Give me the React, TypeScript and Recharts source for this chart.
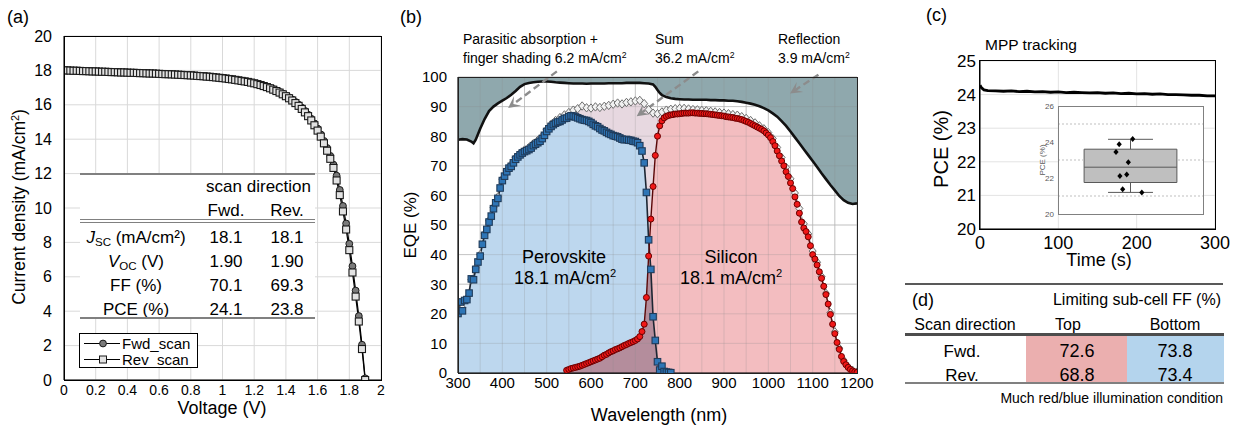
import React from "react";
import {
  ComposedChart,
  LineChart,
  Line,
  Area,
  Scatter,
  XAxis,
  YAxis,
  CartesianGrid,
  ReferenceLine,
  ReferenceArea,
} from "recharts";

const FONT = '"Liberation Sans", Arial, Helvetica, sans-serif';

// ---------- (a) J-V curves ----------
const voltage = [
  0.0, 0.02, 0.04, 0.06, 0.08, 0.1, 0.12, 0.14, 0.16, 0.18,
  0.2, 0.22, 0.24, 0.26, 0.28, 0.3, 0.32, 0.34, 0.36, 0.38,
  0.4, 0.42, 0.44, 0.46, 0.48, 0.5, 0.52, 0.54, 0.56, 0.58,
  0.6, 0.62, 0.64, 0.66, 0.68, 0.7, 0.72, 0.74, 0.76, 0.78,
  0.8, 0.82, 0.84, 0.86, 0.88, 0.9, 0.92, 0.94, 0.96, 0.98,
  1.0, 1.02, 1.04, 1.06, 1.08, 1.1, 1.12, 1.14, 1.16, 1.18,
  1.2, 1.22, 1.24, 1.26, 1.28, 1.3, 1.32, 1.34, 1.36, 1.38,
  1.4, 1.42, 1.44, 1.46, 1.48, 1.5, 1.52, 1.54, 1.56, 1.58,
  1.6, 1.62, 1.64, 1.66, 1.68, 1.7, 1.72, 1.74, 1.76, 1.78,
  1.8, 1.82, 1.84, 1.86, 1.88, 1.9,
];
const jFwd = [
  18.01, 18.01, 18.0, 17.99, 17.99, 17.98, 17.97, 17.97, 17.96, 17.95,
  17.95, 17.94, 17.93, 17.93, 17.92, 17.91, 17.91, 17.9, 17.89, 17.89,
  17.88, 17.87, 17.87, 17.86, 17.85, 17.85, 17.84, 17.83, 17.83, 17.82,
  17.81, 17.8, 17.79, 17.79, 17.78, 17.77, 17.76, 17.75, 17.74, 17.73,
  17.72, 17.71, 17.69, 17.68, 17.67, 17.65, 17.64, 17.62, 17.6, 17.58,
  17.56, 17.54, 17.52, 17.5, 17.47, 17.44, 17.41, 17.38, 17.35, 17.31,
  17.27, 17.23, 17.18, 17.12, 17.06, 16.99, 16.92, 16.84, 16.75, 16.66,
  16.55, 16.44, 16.31, 16.17, 16.01, 15.84, 15.65, 15.43, 15.19, 14.92,
  14.62, 14.28, 13.9, 13.49, 13.03, 12.52, 11.88, 11.05, 10.12, 9.1,
  7.92, 6.62, 5.2, 3.72, 2.05, 0.1,
];
const jRev = [
  18.0, 18.0, 17.99, 17.98, 17.98, 17.97, 17.96, 17.96, 17.95, 17.94,
  17.94, 17.93, 17.92, 17.92, 17.91, 17.9, 17.9, 17.89, 17.88, 17.88,
  17.87, 17.86, 17.86, 17.85, 17.84, 17.84, 17.83, 17.82, 17.82, 17.81,
  17.8, 17.79, 17.78, 17.78, 17.77, 17.76, 17.75, 17.74, 17.73, 17.72,
  17.71, 17.7, 17.68, 17.67, 17.66, 17.64, 17.63, 17.61, 17.59, 17.57,
  17.55, 17.53, 17.5, 17.48, 17.45, 17.42, 17.39, 17.36, 17.33, 17.29,
  17.25, 17.2, 17.15, 17.09, 17.03, 16.96, 16.88, 16.8, 16.71, 16.61,
  16.5, 16.38, 16.25, 16.1, 15.94, 15.76, 15.56, 15.34, 15.09, 14.81,
  14.5, 14.15, 13.76, 13.33, 12.86, 12.33, 11.6, 10.75, 9.8, 8.75,
  7.55, 6.25, 4.85, 3.4, 1.8, 0.0,
];
const voltTicks = [0, 0.2, 0.4, 0.6, 0.8, 1, 1.2, 1.4, 1.6, 1.8, 2];
const voltMinorTicks = [0.1, 0.3, 0.5, 0.7, 0.9, 1.1, 1.3, 1.5, 1.7, 1.9];
const jTicks = [0, 2, 4, 6, 8, 10, 12, 14, 16, 18, 20];
const jMinorTicks = [1, 3, 5, 7, 9, 11, 13, 15, 17, 19];

const jvRowLabels = ["Jsc", "Voc", "FF", "PCE"];
const jvFwdValues = ["18.1", "1.90", "70.1", "24.1"];
const jvRevValues = ["18.1", "1.90", "69.3", "23.8"];

// ---------- (b) EQE ----------
const peroWl = [
  300, 305, 310, 315, 320, 325, 330, 335, 340, 345, 350, 355, 360, 365, 370, 375, 380, 385, 390, 395,
  400, 405, 410, 415, 420, 425, 430, 435, 440, 445, 450, 455, 460, 465, 470, 475, 480, 485, 490, 495,
  500, 505, 510, 515, 520, 525, 530, 535, 540, 545, 550, 555, 560, 565, 570, 575, 580, 585, 590, 595,
  600, 605, 610, 615, 620, 625, 630, 635, 640, 645, 650, 655, 660, 665, 670, 675, 680, 685, 690, 695,
  700, 705, 710, 715, 720, 725, 730, 735, 740, 745, 750, 755, 760, 765, 770, 775, 780,
];
const peroEqe = [
  20.1, 24.0, 21.0, 24.5, 24.8, 27.0, 31.8, 31.5, 35.0, 37.5, 39.5, 43.5, 46.5, 48.5, 51.0, 53.0, 55.5, 57.5, 59.0, 62.5,
  65.0, 66.5, 68.0, 69.2, 69.8, 71.0, 72.2, 73.0, 73.7, 74.3, 74.8, 75.1, 75.5, 76.0, 76.8, 77.3, 77.8, 78.3, 79.2, 80.3,
  81.6, 82.5, 83.3, 83.9, 84.4, 84.8, 85.0, 85.5, 86.0, 86.1, 86.6, 86.9, 86.8, 86.5, 86.2, 85.9, 85.6, 85.4, 85.3, 85.0,
  84.6, 84.0, 83.5, 83.2, 82.6, 82.1, 81.8, 81.3, 80.9, 80.6, 80.2, 80.0, 79.8, 79.4, 79.0, 78.8, 78.9, 78.7, 78.6, 78.3,
  78.2, 77.8, 76.8, 75.0, 71.0, 61.0, 45.0, 35.0, 19.0, 11.0, 3.8, 1.0, 2.3, 0.5, 0.3, 0.2, 0.1,
];
const siWl = [
  545, 550, 555, 560, 565, 570, 575, 580, 585, 590, 595, 600, 605, 610, 615, 620, 625, 630, 635, 640,
  645, 650, 655, 660, 665, 670, 675, 680, 685, 690, 695, 700, 705, 710, 715, 720, 725, 730, 735, 740,
  745, 750, 755, 760, 765, 770, 775, 780, 785, 790, 795, 800, 805, 810, 815, 820, 825, 830, 835, 840,
  845, 850, 855, 860, 865, 870, 875, 880, 885, 890, 895, 900, 905, 910, 915, 920, 925, 930, 935, 940,
  945, 950, 955, 960, 965, 970, 975, 980, 985, 990, 995, 1000, 1005, 1010, 1015, 1020, 1025, 1030, 1035, 1040,
  1045, 1050, 1055, 1060, 1065, 1070, 1075, 1080, 1085, 1090, 1095, 1100, 1105, 1110, 1115, 1120, 1125, 1130, 1135, 1140,
  1145, 1150, 1155, 1160, 1165, 1170, 1175, 1180, 1185, 1190, 1195, 1200,
];
const siEqe = [
  0.9, 1.2, 1.5, 1.7, 1.9, 2.1, 2.3, 2.6, 2.9, 3.2, 3.5, 3.8, 4.1, 4.4, 4.7, 5.0, 5.5, 6.0, 6.3, 6.8,
  7.2, 7.5, 7.9, 8.2, 8.5, 8.9, 9.3, 9.6, 10.0, 10.3, 10.6, 11.0, 11.5, 12.3, 14.0, 16.5, 25.5, 39.5, 52.0, 63.0,
  73.5, 80.0, 83.5, 85.2, 86.2, 86.7, 87.0, 87.2, 87.3, 87.5, 87.5, 87.6, 87.7, 87.8, 87.8, 87.8, 87.9, 87.9, 87.8, 87.8,
  87.7, 87.7, 87.6, 87.6, 87.5, 87.4, 87.3, 87.2, 87.1, 87.0, 86.9, 86.8, 86.6, 86.5, 86.4, 86.3, 86.1, 86.0, 85.8, 85.6,
  85.3, 85.0, 84.7, 84.3, 83.9, 83.5, 83.1, 82.7, 82.3, 81.8, 81.1, 80.4, 79.5, 78.2, 76.8, 75.0, 73.4, 71.6, 70.0, 68.0,
  66.4, 64.2, 62.3, 59.5, 57.0, 54.0, 51.0, 49.0, 47.8, 46.0, 43.0, 40.0, 38.5, 36.5, 34.2, 32.0, 29.3, 26.5, 23.3, 19.8,
  16.5, 13.3, 10.3, 8.0, 5.6, 3.9, 2.8, 1.9, 1.2, 0.7, 0.4, 0.2,
];
// region where both sub-cells respond (lower of the two curves)
const overlapWl = [
  545, 550, 555, 560, 565, 570, 575, 580, 585, 590, 595, 600, 605, 610, 615, 620, 625, 630, 635, 640,
  645, 650, 655, 660, 665, 670, 675, 680, 685, 690, 695, 700, 705, 710, 715, 720, 725, 730, 735, 740,
  745, 750, 755, 760, 765, 770, 775, 780,
];
const overlapEqe = [
  0.9, 1.2, 1.5, 1.7, 1.9, 2.1, 2.3, 2.6, 2.9, 3.2, 3.5, 3.8, 4.1, 4.4, 4.7, 5.0, 5.5, 6.0, 6.3, 6.8,
  7.2, 7.5, 7.9, 8.2, 8.5, 8.9, 9.3, 9.6, 10.0, 10.3, 10.6, 11.0, 11.5, 12.3, 14.0, 16.5, 25.5, 39.5, 35.0, 19.0,
  11.0, 3.8, 1.0, 2.3, 0.5, 0.3, 0.2, 0.1,
];
const sumWl = [
  300, 310, 320, 330, 340, 350, 360, 370, 380, 390, 400, 410, 420, 430, 440, 450, 460, 470, 480, 490,
  500, 510, 520, 530, 540, 550, 560, 570, 580, 590, 600, 610, 620, 630, 640, 650, 660, 670, 680, 690,
  700, 710, 720, 730, 740, 750, 760, 770, 780, 790, 800, 810, 820, 830, 840, 850, 860, 870, 880, 890,
  900, 910, 920, 930, 940, 950, 960, 970, 980, 990, 1000, 1010, 1020, 1030, 1040, 1050, 1060, 1070, 1080, 1090,
  1100, 1110, 1120, 1130, 1140, 1150, 1160, 1170, 1180, 1190, 1200,
];
const sumEqe = [
  20.5, 22.0, 25.2, 31.5, 35.5, 40.0, 47.0, 51.5, 56.0, 59.5, 65.5, 68.5, 70.5, 72.8, 74.2, 75.3, 76.2, 77.5, 78.6, 80.0,
  82.2, 84.0, 85.3, 86.3, 87.2, 88.0, 88.8, 89.3, 90.2, 89.6, 89.5, 89.9, 89.7, 90.1, 90.4, 90.8, 91.2, 90.9, 91.4, 91.6,
  91.9, 92.1, 91.0, 89.0, 87.8, 87.6, 88.2, 88.8, 89.1, 89.3, 89.4, 89.4, 89.2, 89.0, 88.9, 88.7, 88.6, 88.4, 88.2, 88.0,
  87.8, 87.6, 87.3, 87.1, 86.6, 86.0, 85.3, 84.5, 83.5, 82.5, 81.2, 79.2, 76.2, 72.8, 69.5, 65.6, 60.8, 55.6, 50.4, 47.0,
  41.2, 37.4, 32.6, 26.9, 20.4, 13.9, 8.4, 4.3, 2.1, 0.9, 0.3,
];
// 1 - R
const reflWl = [
  300, 310, 320, 330, 335, 340, 350, 360, 370, 380, 390, 400, 410, 420, 430, 440, 450, 460, 470, 480,
  490, 500, 510, 520, 530, 540, 550, 560, 570, 580, 590, 600, 610, 620, 630, 640, 650, 660, 670, 680,
  690, 700, 710, 720, 730, 740, 745, 750, 755, 760, 770, 780, 790, 800, 810, 820, 830, 840, 850, 860,
  870, 880, 890, 900, 910, 920, 930, 940, 950, 960, 970, 980, 990, 1000, 1010, 1020, 1030, 1040, 1050, 1060,
  1070, 1080, 1090, 1100, 1110, 1120, 1130, 1140, 1150, 1160, 1170, 1180, 1190, 1200,
];
const oneMinusR = [
  78.8, 79.0, 78.9, 78.2, 77.6, 78.8, 82.5, 85.8, 88.5, 90.0, 91.1, 92.0, 92.9, 94.0, 95.3, 96.7, 97.6, 98.0, 98.2, 98.4,
  98.5, 98.5, 98.4, 98.2, 98.1, 98.0, 97.9, 97.8, 97.8, 97.8, 97.7, 97.8, 97.8, 97.8, 97.8, 97.9, 97.9, 97.9, 97.9, 98.0,
  98.0, 98.0, 98.0, 97.9, 97.8, 97.5, 96.7, 95.6, 94.6, 93.9, 93.2, 92.8, 92.6, 92.5, 92.4, 92.4, 92.3, 92.3, 92.3, 92.3,
  92.2, 92.2, 92.1, 92.1, 92.0, 92.0, 91.8, 91.6, 91.3, 91.0, 90.6, 90.1, 89.5, 88.7, 87.7, 86.6, 85.1, 83.5, 81.6, 79.6,
  77.6, 75.6, 73.6, 71.6, 69.6, 67.5, 65.5, 63.5, 61.7, 59.8, 58.4, 57.5, 57.1, 57.3,
];
const wlTicks = [300, 350, 400, 450, 500, 550, 600, 650, 700, 750, 800, 850, 900, 950, 1000, 1050, 1100, 1150, 1200];
const eqeTicks = [0, 10, 20, 30, 40, 50, 60, 70, 80, 90, 100];
const eqeMinorTicks = [5, 15, 25, 35, 45, 55, 65, 75, 85, 95];

const arrowParasitic = [{ x: 523, y: 101.9 }, { x: 413, y: 89.5 }];
const arrowSum = [{ x: 842, y: 101.9 }, { x: 703, y: 86.7 }];
const arrowRefl = [{ x: 1113, y: 100.8 }, { x: 1049, y: 94.4 }];

// ---------- (c) MPP tracking ----------
const mppTime = [
  0, 2, 5, 10, 20, 30, 40, 50, 60, 70, 80, 90, 100, 110, 120, 130, 140, 150, 160, 170,
  180, 190, 200, 210, 220, 230, 240, 250, 260, 270, 280, 290, 300,
];
const mppPce = [
  24.28, 24.2, 24.14, 24.12, 24.11, 24.1, 24.11, 24.09, 24.1, 24.08, 24.09, 24.07, 24.08, 24.06, 24.07, 24.06, 24.05, 24.06, 24.04, 24.05,
  24.03, 24.04, 24.02, 24.03, 24.01, 24.02, 24.0, 24.0, 23.99, 23.98, 23.98, 23.96, 23.96,
];
const timeTicks = [0, 100, 200, 300];
const timeMinorTicks = [25, 50, 75, 125, 150, 175, 225, 250, 275];
const pceTicks = [20, 21, 22, 23, 24, 25];
const pceMinorTicks = [
  20.2, 20.4, 20.6, 20.8, 21.2, 21.4, 21.6, 21.8, 22.2, 22.4, 22.6, 22.8, 23.2, 23.4, 23.6, 23.8, 24.2, 24.4, 24.6, 24.8,
];

// inset box plot: [min, q1, median, q3, max]
const boxStats = [21.2, 21.75, 22.6, 23.6, 24.15];
const devicePos = [4.0, 4.22, 5.15, 4.85, 4.27, 4.74, 4.46, 5.78];
const devicePce = [23.45, 23.87, 24.17, 22.88, 22.11, 22.2, 21.37, 21.2];
const insetTicks = [20, 22, 24, 26];
const insetGrid = [21, 23, 25];

// ---------- (d) table ----------
const ffScan = ["Fwd.", "Rev."];
const ffTop = ["72.6", "68.8"];
const ffBottom = ["73.8", "73.4"];

// ---------- helpers ----------
const jvData = voltage.map((v, i) => ({ v, fwd: jFwd[i], rev: jRev[i] }));
const pairs = (xs: number[], ys: number[]) => xs.map((wl, i) => ({ wl, v: ys[i] }));
const peroData = pairs(peroWl, peroEqe);
const siData = pairs(siWl, siEqe);
const overlapData = pairs(overlapWl, overlapEqe);
const sumData = pairs(sumWl, sumEqe);
const reflData = pairs(reflWl, oneMinusR);
const mppData = mppTime.map((t, i) => ({ t, pce: mppPce[i] }));
const deviceData = devicePos.map((x, i) => ({ x, y: devicePce[i] }));

const squareDot = (fill: string, stroke: string, s: number) => (p: any) => {
  if (p.cx == null || p.cy == null) return <g key={`q${p.index}`} />;
  return (
    <rect key={`q${p.index}`} x={p.cx - s / 2} y={p.cy - s / 2} width={s} height={s}
      fill={fill} stroke={stroke} strokeWidth={1.1} />
  );
};
const circleDot = (fill: string, stroke: string, r: number) => (p: any) => {
  if (p.cx == null || p.cy == null) return <g key={`c${p.index}`} />;
  return <circle key={`c${p.index}`} cx={p.cx} cy={p.cy} r={r} fill={fill} stroke={stroke} strokeWidth={1} />;
};
const diamondDot = (p: any) => {
  if (p.cx == null || p.cy == null) return <g key={`d${p.index}`} />;
  const { cx, cy } = p;
  return (
    <polygon key={`d${p.index}`} points={`${cx},${cy - 4.2} ${cx + 3.5},${cy} ${cx},${cy + 4.2} ${cx - 3.5},${cy}`}
      fill="#f2f2f2" stroke="#6e6e6e" strokeWidth={1} />
  );
};
const smallDiamond = (p: any) => {
  const { cx, cy } = p;
  return <polygon points={`${cx},${cy - 3} ${cx + 2.6},${cy} ${cx},${cy + 3} ${cx - 2.6},${cy}`} fill="#000" />;
};

// dashed grey arrow used for the loss annotations
const DashArrow = (p: any) => {
  const { x1, y1, x2, y2 } = p;
  const a = Math.atan2(y2 - y1, x2 - x1);
  const c = Math.cos(a);
  const s = Math.sin(a);
  const L = 12;
  const W = 6;
  const bx = x2 - L * c;
  const by = y2 - L * s;
  const nx = x2 - L * 0.55 * c;
  const ny = y2 - L * 0.55 * s;
  const head = `${x2},${y2} ${bx - W * s},${by + W * c} ${nx},${ny} ${bx + W * s},${by - W * c}`;
  return (
    <g>
      <line x1={x1} y1={y1} x2={nx} y2={ny} stroke="#8c8c8c" strokeWidth={2.4} strokeDasharray="7 4" />
      <polygon points={head} fill="#8c8c8c" />
    </g>
  );
};

const Txt = ({ x, y, size = 16, align = "left", rotate = false, color = "#000", children }: any) => {
  let transform = "translate(0,-50%)";
  if (align === "center") transform = "translate(-50%,-50%)";
  if (align === "right") transform = "translate(-100%,-50%)";
  if (rotate) transform = "translate(-50%,-50%) rotate(-90deg)";
  return (
    <div style={{ position: "absolute", left: x, top: y, fontSize: size, lineHeight: 1, whiteSpace: "nowrap", color, transform }}>
      {children}
    </div>
  );
};
const Sup = ({ children }: any) => (
  <span style={{ fontSize: "0.62em", position: "relative", top: "-0.6em" }}>{children}</span>
);
const Sub = ({ children }: any) => (
  <span style={{ fontSize: "0.68em", position: "relative", top: "0.3em", fontStyle: "normal" }}>{children}</span>
);
const Rule = ({ x, y, w, t = 1.5, color = "#808080" }: any) => (
  <div style={{ position: "absolute", left: x, top: y - t / 2, width: w, height: t, background: color }} />
);
const Frame = ({ x, y, w, h, t = 1, color = "#000" }: any) => (
  <div style={{ position: "absolute", left: x - t / 2, top: y - t / 2, width: w + t, height: h + t,
    border: `${t}px solid ${color}`, boxSizing: "border-box", pointerEvents: "none" }} />
);

const jvLabel = (k: string) => {
  if (k === "Jsc") return <span><i>J</i><Sub>SC</Sub> (mA/cm²)</span>;
  if (k === "Voc") return <span><i>V</i><Sub>OC</Sub> (V)</span>;
  if (k === "FF") return "FF (%)";
  return "PCE (%)";
};

export default function App() {
  const rowY = [237, 261, 285, 309];
  return (
    <div style={{ position: "absolute", left: 0, top: 0, width: 1236, height: 428, background: "#fff", fontFamily: FONT, overflow: "hidden" }}>
      {/* (a) */}
      <div style={{ position: "absolute", left: 0, top: 0 }}>
        <ComposedChart width={400} height={428} data={jvData} margin={{ top: 36, right: 19, bottom: 0, left: 0 }}>
          <CartesianGrid stroke="#d9d9d9" />
          <XAxis type="number" dataKey="v" domain={[0, 2]} ticks={voltTicks} interval={0} allowDataOverflow
            tickLine={false} tickSize={0} tickMargin={5} height={48} axisLine={{ stroke: "#000" }}
            tick={{ fontSize: 14, fill: "#000" }} />
          <XAxis xAxisId="minor" type="number" domain={[0, 2]} ticks={voltMinorTicks} interval={0} mirror
            tick={false} tickSize={4} axisLine={false} tickLine={{ stroke: "#000" }} height={0} allowDataOverflow />
          <YAxis type="number" domain={[0, 20]} ticks={jTicks} interval={0} width={64} allowDataOverflow
            tickLine={false} tickSize={0} tickMargin={12} axisLine={{ stroke: "#000" }} tick={{ fontSize: 16, fill: "#000" }} />
          <YAxis yAxisId="minor" type="number" domain={[0, 20]} ticks={jMinorTicks} interval={0} mirror
            tick={false} tickSize={4} axisLine={false} tickLine={{ stroke: "#000" }} width={0} allowDataOverflow />
          <Line dataKey="fwd" stroke="#000" strokeWidth={1.2} dot={circleDot("#7a7a7a", "#1a1a1a", 3.4)}
            activeDot={false} isAnimationActive={false} />
          <Line dataKey="rev" stroke="#000" strokeWidth={1.2} dot={squareDot("#e2e2e2", "#1a1a1a", 7)}
            activeDot={false} isAnimationActive={false} />
        </ComposedChart>
      </div>
      <Frame x={64} y={36} w={317} h={344} />

      {/* (a) table */}
      <div style={{ position: "absolute", left: 80, top: 173, width: 235, height: 146, background: "#fff" }} />
      <Rule x={80} y={174} w={235} />
      <Txt x={311} y={186} size={17} align="right">scan direction</Txt>
      <Txt x={226} y={210} size={17} align="center">Fwd.</Txt>
      <Txt x={287} y={210} size={17} align="center">Rev.</Txt>
      <Rule x={80} y={219.5} w={235} t={1.3} />
      <Rule x={80} y={222.5} w={235} t={1.3} />
      {jvRowLabels.map((k, i) => (
        <React.Fragment key={k}>
          <Txt x={136} y={rowY[i]} size={17} align="center">{jvLabel(k)}</Txt>
          <Txt x={226} y={rowY[i]} size={17} align="center">{jvFwdValues[i]}</Txt>
          <Txt x={287} y={rowY[i]} size={17} align="center">{jvRevValues[i]}</Txt>
        </React.Fragment>
      ))}
      <Rule x={80} y={318} w={235} />

      {/* (a) legend */}
      <div style={{ position: "absolute", left: 79, top: 333, width: 119, height: 35, background: "#fff", border: "1px solid #000", boxSizing: "border-box" }}>
        <svg width={40} height={33} style={{ position: "absolute", left: 2, top: 0 }}>
          <line x1={2} y1={9.5} x2={38} y2={9.5} stroke="#000" strokeWidth={1.2} />
          <circle cx={21} cy={9.5} r={3.4} fill="#7a7a7a" stroke="#1a1a1a" />
          <line x1={2} y1={25.5} x2={38} y2={25.5} stroke="#000" strokeWidth={1.2} />
          <rect x={17.5} y={22} width={7} height={7} fill="#e2e2e2" stroke="#1a1a1a" />
        </svg>
      </div>
      <Txt x={122} y={343} size={15}>Fwd_scan</Txt>
      <Txt x={122} y={359} size={15}>Rev_scan</Txt>

      <Txt x={7} y={17} size={18}>(a)</Txt>
      <Txt x={20} y={207} size={17.5} rotate>Current density (mA/cm<Sup>2</Sup>)</Txt>
      <Txt x={222} y={408} size={18} align="center">Voltage (V)</Txt>

      {/* (b) */}
      <div style={{ position: "absolute", left: 400, top: 0 }}>
        <ComposedChart width={480} height={428} margin={{ top: 77, right: 23, bottom: 0, left: 0 }}>
          <CartesianGrid stroke="#d9d9d9" />
          <XAxis type="number" dataKey="wl" domain={[300, 1200]} ticks={wlTicks} interval={0} allowDataOverflow
            tickFormatter={(v: number) => (v % 100 === 0 ? String(v) : "")}
            tickLine={false} tickSize={0} tickMargin={4} height={55} axisLine={{ stroke: "#000" }}
            tick={{ fontSize: 15, fill: "#000" }} />
          <XAxis xAxisId="minor" type="number" domain={[300, 1200]} ticks={wlTicks} interval={0} mirror
            tick={false} tickSize={4} axisLine={false} tickLine={{ stroke: "#000" }} height={0} allowDataOverflow />
          <YAxis type="number" domain={[0, 100]} ticks={eqeTicks} interval={0} width={58} allowDataOverflow
            tickLine={false} tickSize={0} tickMargin={11} axisLine={{ stroke: "#000" }} tick={{ fontSize: 15, fill: "#000" }} />
          <YAxis yAxisId="minor" type="number" domain={[0, 100]} ticks={eqeMinorTicks} interval={0} mirror
            tick={false} tickSize={4} axisLine={false} tickLine={{ stroke: "#000" }} width={0} allowDataOverflow />

          <Area data={reflData} dataKey={(d: any) => [d.v, 100]} fill="#8FA8AD" fillOpacity={1} stroke="none"
            isAnimationActive={false} activeDot={false} />
          <Area data={sumData} dataKey="v" fill="#E7D8E0" fillOpacity={1} stroke="none" isAnimationActive={false} activeDot={false} />
          <Area data={peroData} dataKey="v" fill="#BDD7EE" fillOpacity={1} stroke="none" isAnimationActive={false} activeDot={false} />
          <Area data={siData} dataKey="v" fill="#F3BDC0" fillOpacity={1} stroke="none" isAnimationActive={false} activeDot={false} />
          <Area data={overlapData} dataKey="v" fill="#B48D9C" fillOpacity={1} stroke="none" isAnimationActive={false} activeDot={false} />

          {/* grid redrawn over the filled regions, faint so the fills tint it */}
          {wlTicks.map((w) => (
            <ReferenceLine key={`gx${w}`} x={w} stroke="#8c8c8c" strokeOpacity={0.25} strokeWidth={1} />
          ))}
          {eqeTicks.map((e) => (
            <ReferenceLine key={`gy${e}`} y={e} stroke="#8c8c8c" strokeOpacity={0.25} strokeWidth={1} />
          ))}

          <Line data={reflData} dataKey="v" stroke="#111" strokeWidth={2.6} dot={false} activeDot={false} isAnimationActive={false} />
          <Line data={sumData} dataKey="v" stroke="#8a8a8a" strokeWidth={0.8} dot={diamondDot} activeDot={false} isAnimationActive={false} />
          <Line data={peroData} dataKey="v" stroke="#1c2633" strokeWidth={1.6} dot={squareDot("#2E75B6", "#1F3B5A", 6.5)}
            activeDot={false} isAnimationActive={false} />
          <Line data={siData} dataKey="v" stroke="#5a0808" strokeWidth={1.4} dot={circleDot("#F01818", "#6a0000", 3)}
            activeDot={false} isAnimationActive={false} />

          <ReferenceLine segment={arrowParasitic} shape={DashArrow} ifOverflow="visible" />
          <ReferenceLine segment={arrowSum} shape={DashArrow} ifOverflow="visible" />
          <ReferenceLine segment={arrowRefl} shape={DashArrow} ifOverflow="visible" />
        </ComposedChart>
      </div>
      <Frame x={458} y={77} w={399} h={296} color="#222" />

      <Txt x={400} y={17} size={18}>(b)</Txt>
      <Txt x={463} y={39} size={14}>Parasitic absorption +</Txt>
      <Txt x={463} y={58} size={14}>finger shading 6.2 mA/cm<Sup>2</Sup></Txt>
      <Txt x={655} y={39} size={14}>Sum</Txt>
      <Txt x={655} y={58} size={14}>36.2 mA/cm<Sup>2</Sup></Txt>
      <Txt x={778} y={39} size={14}>Reflection</Txt>
      <Txt x={778} y={58} size={14}>3.9 mA/cm<Sup>2</Sup></Txt>
      <Txt x={564} y={257} size={18} align="center">Perovskite</Txt>
      <Txt x={565} y={278} size={18} align="center">18.1 mA/cm<Sup>2</Sup></Txt>
      <Txt x={731} y={257} size={18} align="center">Silicon</Txt>
      <Txt x={731} y={278} size={18} align="center">18.1 mA/cm<Sup>2</Sup></Txt>
      <Txt x={410} y={225} size={17} rotate>EQE (%)</Txt>
      <Txt x={659} y={415} size={18} align="center">Wavelength (nm)</Txt>

      {/* (c) */}
      <div style={{ position: "absolute", left: 930, top: 0 }}>
        <LineChart width={300} height={280} data={mppData} margin={{ top: 61, right: 15, bottom: 0, left: 0 }}>
          <CartesianGrid stroke="#e3e3e3" />
          <XAxis type="number" dataKey="t" domain={[0, 300]} ticks={timeTicks} interval={0} allowDataOverflow
            tickLine={false} tickSize={0} tickMargin={7} height={51} axisLine={{ stroke: "#000" }}
            tick={{ fontSize: 18, fill: "#000" }} />
          <XAxis xAxisId="minor" type="number" domain={[0, 300]} ticks={timeMinorTicks} interval={0} mirror
            tick={false} tickSize={4} axisLine={false} tickLine={{ stroke: "#000" }} height={0} allowDataOverflow />
          <YAxis type="number" domain={[20, 25]} ticks={pceTicks} interval={0} width={50} allowDataOverflow
            tickLine={false} tickSize={0} tickMargin={4} axisLine={{ stroke: "#000" }} tick={{ fontSize: 17, fill: "#000" }} />
          <YAxis yAxisId="minor" type="number" domain={[20, 25]} ticks={pceMinorTicks} interval={0} mirror
            tick={false} tickSize={3} axisLine={false} tickLine={{ stroke: "#000" }} width={0} allowDataOverflow />
          <Line dataKey="pce" stroke="#000" strokeWidth={2.8} dot={false} activeDot={false} isAnimationActive={false} />
        </LineChart>
      </div>
      <Frame x={980} y={61} w={235} h={168} t={1.5} />

      {/* (c) inset */}
      <div style={{ position: "absolute", left: 1058, top: 106, width: 145, height: 108, background: "#fff" }} />
      <div style={{ position: "absolute", left: 1030, top: 100 }}>
        <ComposedChart width={180} height={120} margin={{ top: 6, right: 7, bottom: 6, left: 0 }}>
          <XAxis type="number" dataKey="x" domain={[0, 10]} hide allowDataOverflow />
          <YAxis type="number" domain={[20, 26]} ticks={insetTicks} interval={0} width={28} allowDataOverflow
            tickLine={false} axisLine={false} tickSize={0} tickMargin={4} tick={{ fontSize: 8, fill: "#595959" }} />
          {insetGrid.map((g) => (
            <ReferenceLine key={g} y={g} stroke="#bfbfbf" strokeDasharray="2 2" />
          ))}
          <ReferenceLine segment={[{ x: 5, y: boxStats[3] }, { x: 5, y: boxStats[4] }]} stroke="#595959" />
          <ReferenceLine segment={[{ x: 5, y: boxStats[0] }, { x: 5, y: boxStats[1] }]} stroke="#595959" />
          <ReferenceLine segment={[{ x: 3.45, y: boxStats[4] }, { x: 6.55, y: boxStats[4] }]} stroke="#595959" />
          <ReferenceLine segment={[{ x: 3.45, y: boxStats[0] }, { x: 6.55, y: boxStats[0] }]} stroke="#595959" />
          <ReferenceArea x1={1.8} x2={8.2} y1={boxStats[1]} y2={boxStats[3]} fill="#bfbfbf" fillOpacity={1} stroke="#595959" />
          <ReferenceLine segment={[{ x: 1.8, y: boxStats[2] }, { x: 8.2, y: boxStats[2] }]} stroke="#595959" />
          <Scatter data={deviceData} dataKey="y" shape={smallDiamond} isAnimationActive={false} />
        </ComposedChart>
      </div>
      <Frame x={1058} y={106} w={145} h={108} color="#808080" />
      <Txt x={1043} y={160} size={8} rotate color="#595959">PCE (%)</Txt>

      <Txt x={926} y={15} size={18}>(c)</Txt>
      <Txt x={985} y={45} size={15.5}>MPP tracking</Txt>
      <Txt x={941} y={149} size={20} rotate>PCE (%)</Txt>
      <Txt x={1099} y={260} size={18} align="center">Time (s)</Txt>

      {/* (d) */}
      <Txt x={912} y={300} size={18}>(d)</Txt>
      <Rule x={905} y={284} w={318} color="#595959" />
      <Txt x={1221} y={300} size={16} align="right">Limiting sub-cell FF (%)</Txt>
      <Txt x={965} y={325} size={16} align="center">Scan direction</Txt>
      <Txt x={1068} y={325} size={16} align="center">Top</Txt>
      <Txt x={1175} y={325} size={16} align="center">Bottom</Txt>
      <div style={{ position: "absolute", left: 1026, top: 336, width: 101, height: 47, background: "#EBAFAF" }} />
      <div style={{ position: "absolute", left: 1127, top: 336, width: 97, height: 47, background: "#B4D4ED" }} />
      <Rule x={905} y={334.5} w={319} t={3} color="#4d4d4d" />
      {ffScan.map((s, i) => (
        <React.Fragment key={s}>
          <Txt x={962} y={351 + i * 24} size={17} align="center">{s}</Txt>
          <Txt x={1077} y={351 + i * 24} size={18} align="center">{ffTop[i]}</Txt>
          <Txt x={1175} y={351 + i * 24} size={18} align="center">{ffBottom[i]}</Txt>
        </React.Fragment>
      ))}
      <Rule x={905} y={383} w={319} color="#808080" />
      <Txt x={1223} y={398} size={14} align="right">Much red/blue illumination condition</Txt>
    </div>
  );
}
